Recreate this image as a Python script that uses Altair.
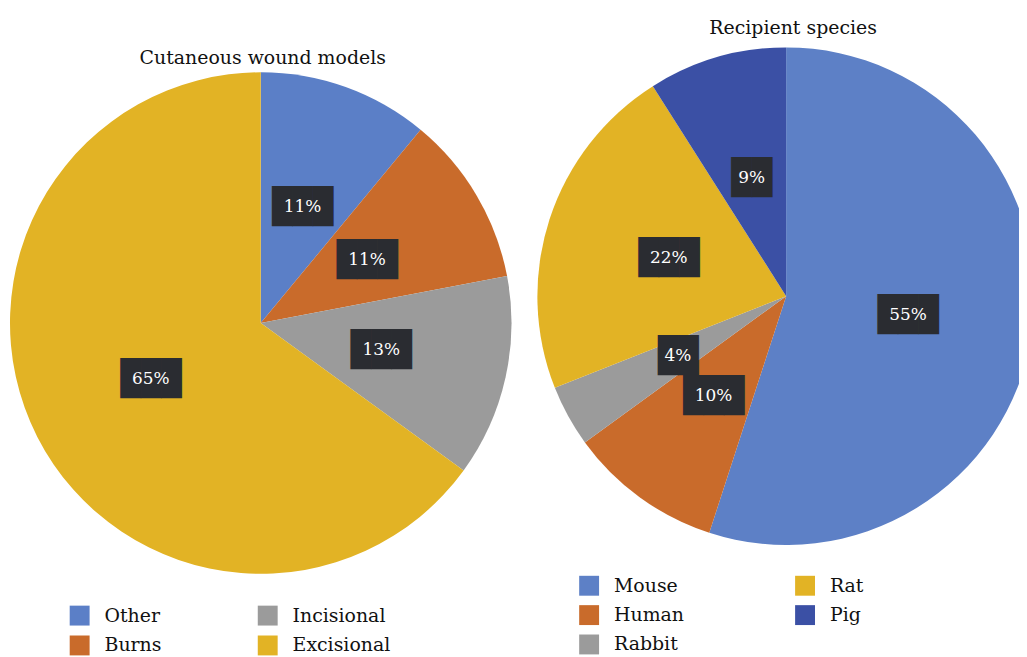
import altair as alt
import pandas as pd

# ---- data ----
wound_cats = ["Other", "Burns", "Incisional", "Excisional"]
wound_vals = [11, 11, 13, 65]
wound_colors = ["#5b7fc7", "#c96b2b", "#9b9b9b", "#e2b325"]

species_cats = ["Mouse", "Human", "Rabbit", "Rat", "Pig"]
species_vals = [55, 10, 4, 22, 9]
species_colors = ["#5d80c6", "#c96b2b", "#9b9b9b", "#e2b325", "#3b50a5"]

titles = ["Cutaneous wound models", "Recipient species"]

SERIF = "DejaVu Serif"
BOX = "#2a2c31"


def frame(cats, vals):
    return pd.DataFrame({
        "cat": cats,
        "val": vals,
        "idx": list(range(len(cats))),
        "label": [f"{v}%" for v in vals],
    })


def pie(df, cx, cy, r, domain, colors, lx, ly, colpad, rowpad):
    base = alt.Chart(df).encode(
        theta=alt.Theta("val:Q", stack=True),
        order=alt.Order("idx:Q"),
        x=alt.value(cx),
        y=alt.value(cy),
    )
    arcs = base.mark_arc(radius=r).encode(
        color=alt.Color(
            "cat:N",
            scale=alt.Scale(domain=domain, range=colors),
            legend=alt.Legend(
                title=None,
                orient="none",
                legendX=lx,
                legendY=ly,
                columns=2,
                columnPadding=colpad,
                rowPadding=rowpad,
                gridAlign="each",
                symbolType="square",
                symbolSize=400,
                symbolStrokeWidth=0,
                symbolOpacity=1,
                labelFont=SERIF,
                labelFontSize=19,
                labelColor="#111111",
                labelOffset=15,
                labelLimit=300,
                padding=0,
            ),
        )
    )
    boxes = base.transform_calculate(
        blk="pad('', length(datum.label), '\u2588')"
    ).mark_text(
        radius=124, font="DejaVu Sans Mono", fontSize=34, color=BOX,
        baseline="middle", align="center", dy=1,
    ).encode(text="blk:N")
    labels = base.mark_text(
        radius=124, font=SERIF, fontSize=17, color="white",
        baseline="middle", align="center",
    ).encode(text="label:N")
    return [arcs, boxes, labels]


def title(text, x, y):
    return alt.Chart(pd.DataFrame({"t": [text]})).mark_text(
        font=SERIF, fontSize=19, color="#111111", baseline="alphabetic", align="center"
    ).encode(text="t:N", x=alt.value(x), y=alt.value(y))


left = pie(frame(wound_cats, wound_vals), 254, 315, 252,
           wound_cats, wound_colors, 62, 599, 96, 10)
right = pie(frame(species_cats, species_vals), 782, 288, 250,
            species_cats, species_colors, 574, 569, 111, 9.5)

chart = alt.layer(
    *left, *right, title(titles[0], 256, 55), title(titles[1], 789, 25)
).resolve_scale(
    color="independent", theta="independent"
).properties(
    width=1016, height=649, padding=0,
    autosize=alt.AutoSizeParams(type="none"),
).configure_view(stroke=None)

chart.save("out.html", embed_options={"renderer": "svg", "actions": False})
